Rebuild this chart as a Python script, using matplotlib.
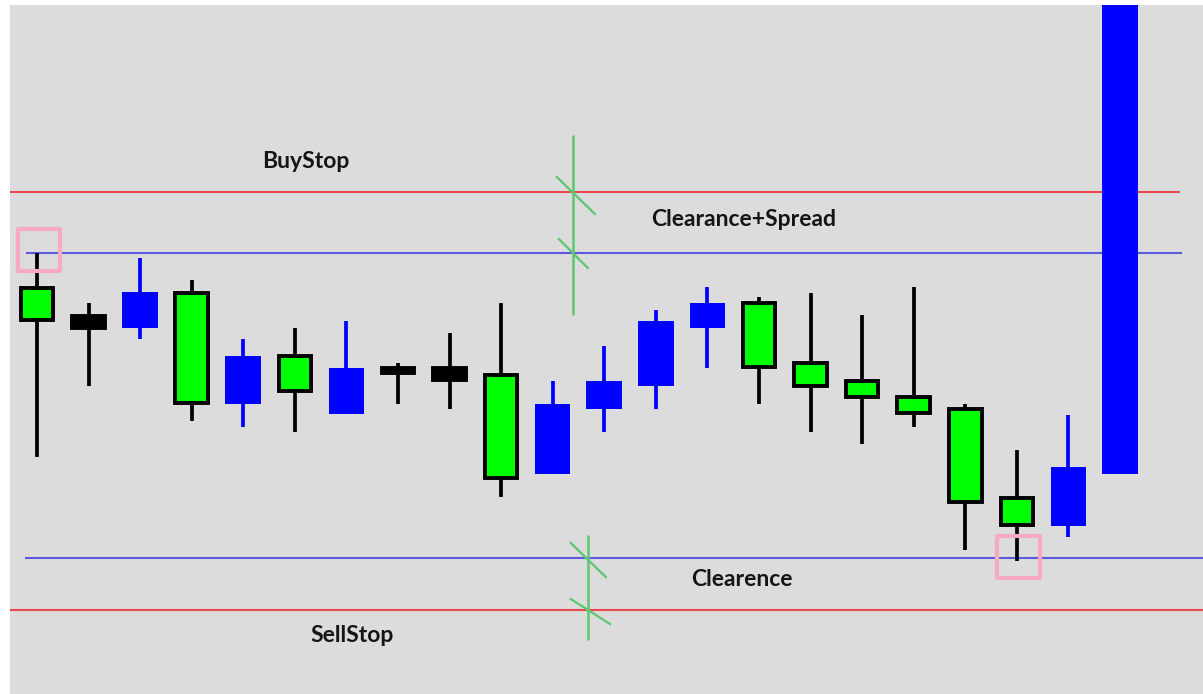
import matplotlib
matplotlib.use("Agg")
import matplotlib.pyplot as plt
import numpy as np

# candle data (arbitrary price units), one entry per bar
highs     = [441, 391, 436, 414, 355, 366, 373, 331, 361, 391, 313, 348, 384, 407, 397, 401, 379, 407, 290, 244, 279, 700]
body_tops = [406, 378, 402, 401, 338, 338, 326, 326, 326, 319, 290, 313, 373, 391, 391, 331, 313, 297, 285, 196, 227, 700]
body_bots = [374, 366, 366, 291, 290, 303, 280, 321, 314, 216, 220, 285, 308, 366, 327, 308, 297, 281, 192, 169, 168, 220]
lows      = [237, 308, 355, 273, 267, 262, 280, 290, 285, 197, 220, 262, 285, 326, 290, 262, 250, 267, 144, 133, 157, 220]
kinds     = ['g', 'k', 'b', 'g', 'b', 'g', 'b', 'k', 'k', 'g', 'b', 'b', 'b', 'b', 'g', 'g', 'g', 'g', 'g', 'g', 'b', 'b']

# levels
buy_stop = 502
clear_spread = 441
clearance = 136
sell_stop = 84

level_labels = ['BuyStop', 'Clearance+Spread', 'Clearence', 'SellStop']
label_x = [5.22, 13.71, 13.67, 6.11]
label_y = [532, 475, 115, 59]

LIME = '#00ff00'
BLUE = '#0000ff'
RED = '#ea4a4f'
LBLUE = '#5a5ae0'
MGREEN = '#5cc670'
PINK = '#f7aac4'

fig = plt.figure(figsize=(12.03, 6.94), dpi=100)
fig.patch.set_facecolor('white')
ax = fig.add_axes([10 / 1203, 0, 1193 / 1203, 689 / 694])
ax.set_facecolor('#dcdcdc')
for s in ax.spines.values():
    s.set_visible(False)
ax.set_xticks([])
ax.set_yticks([])
ax.set_xlim(-0.5236, 22.61)
ax.set_ylim(0, 689)

x = np.arange(len(highs))
hi = np.array(highs)
lo = np.array(lows)
bt = np.array(body_tops)
bb = np.array(body_bots)

# wicks
wick_col = [BLUE if k == 'b' else 'black' for k in kinds]
ax.vlines(x[:-1], lo[:-1], hi[:-1], colors=wick_col[:-1], linewidth=2.7, zorder=3)

# bodies
for i, k in enumerate(kinds):
    if k == 'g':
        ax.bar(x[i], bt[i] - bb[i], bottom=bb[i], width=0.63, color=LIME,
               edgecolor='black', linewidth=2.8, zorder=4)
    elif k == 'k':
        ax.bar(x[i], bt[i] - bb[i], bottom=bb[i], width=0.63, color='black',
               edgecolor='black', linewidth=2.8, zorder=4)
    else:
        ax.bar(x[i], bt[i] - bb[i], bottom=bb[i], width=0.69, color=BLUE,
               linewidth=0, zorder=4)

# horizontal levels
ax.hlines(buy_stop, -0.53, 22.16, colors=RED, linewidth=1.5, zorder=2)
ax.hlines(clear_spread, -0.21, 22.2, colors=LBLUE, linewidth=1.5, zorder=2)
ax.hlines(clearance, -0.23, 23, colors=LBLUE, linewidth=1.5, zorder=2)
ax.hlines(sell_stop, -0.53, 23, colors=RED, linewidth=1.5, zorder=2)

# distance markers
ax.vlines(10.39, 379, 559, colors=MGREEN, linewidth=1.8, zorder=5)
ax.plot([10.08, 10.82], [517, 480], color=MGREEN, lw=1.6, zorder=5)
ax.plot([10.12, 10.68], [455, 426], color=MGREEN, lw=1.6, zorder=5)
ax.vlines(10.68, 54, 159, colors=MGREEN, linewidth=1.8, zorder=5)
ax.plot([10.35, 11.03], [151, 117], color=MGREEN, lw=1.6, zorder=5)
ax.plot([10.35, 11.11], [95, 70], color=MGREEN, lw=1.6, zorder=5)

# highlight squares
ax.scatter([0.04, 19.04], [444, 137], marker='s', s=950, facecolors='none',
           edgecolors=PINK, linewidths=3, zorder=6)

for t, tx, ty in zip(level_labels, label_x, label_y):
    ax.text(tx, ty, t, ha='center', va='center', fontsize=16.5,
            fontweight='bold', family='Lato', color='#151515', zorder=7)

fig.savefig('out.png', dpi=100, facecolor='white')
